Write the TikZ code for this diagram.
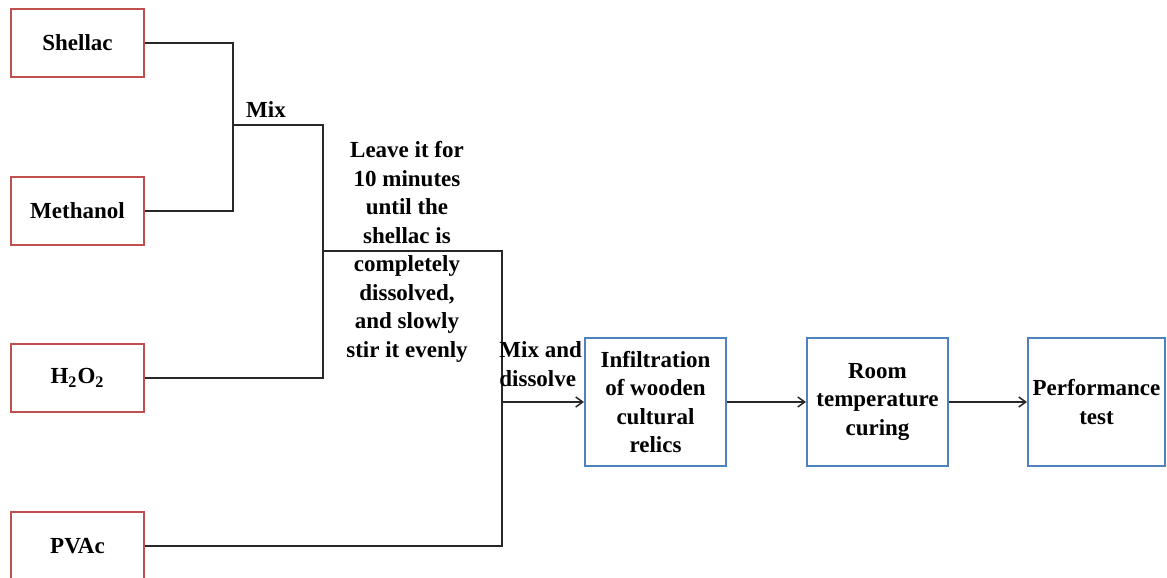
\documentclass[tikz,border=0pt]{standalone}
\usepackage{fontspec}
\setmainfont{Liberation Serif}
\usetikzlibrary{positioning,arrows.meta}
\definecolor{redline}{RGB}{192,80,77}
\definecolor{blueline}{RGB}{79,129,189}
\definecolor{wire}{RGB}{40,40,40}

\begin{document}
\begin{tikzpicture}[
  x=0.5pt, y=-0.5pt,
  >={Straight Barb[length=3.5pt,width=5pt]},
  inbox/.style={draw=redline, line width=1pt, minimum width=66.5pt, minimum height=34pt, font=\fontsize{11.5}{14.25}\selectfont\bfseries},
  stepbox/.style={draw=blueline, line width=1pt, minimum width=70.5pt, minimum height=64pt, align=center, font=\fontsize{11.5}{14.25}\selectfont\bfseries},
  lbl/.style={align=center, font=\fontsize{11.5}{14.25}\selectfont\bfseries, inner sep=0pt},
  wire/.style={draw=wire, line width=0.75pt}
]
\clip (0,0) rectangle (1167,578);
\useasboundingbox (0,0) rectangle (1167,578);

% raw materials
\node[inbox] (shellac) at (77.5,43) {Shellac};
\node[inbox] (methanol) at (77.5,211) {Methanol};
\node[inbox] (water) at (77.5,378) {H\textsubscript{2}O\textsubscript{2}};
\node[inbox] (pvac) at (77.5,546) {PVAc};

% process steps
\node[stepbox] (infil) at (655.5,402) {Infiltration\\of wooden\\cultural\\relics};
\node[stepbox] (room) at (877.5,402) {Room\\temperature\\curing};
\node[stepbox, minimum width=68.5pt, inner sep=2pt] (perf) at (1096.5,402) {Performance\\test};

% junctions
\coordinate (j1) at (233,125);
\coordinate (j2) at (323,251);
\coordinate (j3) at (502,402);

\draw[wire] (shellac.east) -| (j1) |- (methanol.east);
\draw[wire] (j1) -| (j2) |- (water.east);
\draw[wire] (j2) -| (j3) |- (pvac.east);
\draw[wire, ->] (j3) -- (infil.west);
\draw[wire, ->] (infil) -- (room);
\draw[wire, ->] (room) -- (perf);

\node[lbl] (mix) at (266,110) {Mix};
\node[lbl] (leave) at (407,252) {Leave it for\\10 minutes\\until the\\shellac is\\completely\\dissolved,\\and slowly\\stir it evenly};
\node[lbl, align=left, anchor=west] (dissolve) at (499,364) {Mix and\\dissolve};
\end{tikzpicture}
\end{document}
